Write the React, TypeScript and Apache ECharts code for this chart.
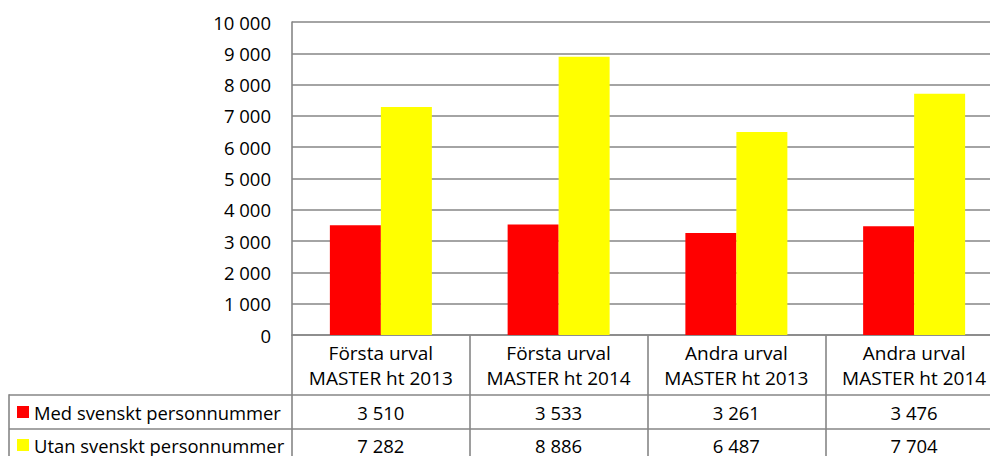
import React, { useEffect, useRef } from "react";
import * as echarts from "echarts";

const categories = [
  "Första urval\nMASTER ht 2013",
  "Första urval\nMASTER ht 2014",
  "Andra urval\nMASTER ht 2013",
  "Andra urval\nMASTER ht 2014",
];
const seriesNames = ["Med svenskt personnummer", "Utan svenskt personnummer"];
const medValues = [3510, 3533, 3261, 3476];
const utanValues = [7282, 8886, 6487, 7704];
const colors = ["#ff0000", "#ffff00"];

const FONT = "'Open Sans', sans-serif";
const GRAY = "#868686";

const fmt = (n: number) => String(n).replace(/\B(?=(\d{3})+(?!\d))/g, " ");

export default function App() {
  const ref = useRef<HTMLDivElement>(null);
  useEffect(() => {
    document.body.style.margin = "0";
    const chart = echarts.init(ref.current!, null, { renderer: "svg" });
    const option: any = {
      animation: false,
      textStyle: { fontFamily: FONT },
      grid: {
        left: 292,
        top: 22,
        width: 711,
        height: 313,
        containLabel: false,
        outerBoundsMode: "none",
      },
      xAxis: {
        type: "category",
        data: categories,
        boundaryGap: true,
        axisLine: { show: true, lineStyle: { color: GRAY, width: 1.6 } },
        axisTick: { show: true, length: 130, lineStyle: { color: GRAY, width: 1.6 } },
        axisLabel: {
          interval: 0,
          margin: 5,
          fontSize: 19,
          lineHeight: 25,
          color: "#000",
          fontFamily: FONT,
        },
      },
      yAxis: {
        type: "value",
        min: 0,
        max: 10000,
        interval: 1000,
        axisLine: { show: true, lineStyle: { color: GRAY, width: 1.6 } },
        axisTick: { show: false },
        splitLine: { show: true, lineStyle: { color: GRAY, width: 1.6 } },
        axisLabel: {
          margin: 21,
          fontSize: 18.5,
          color: "#000",
          fontFamily: FONT,
          formatter: (v: number) => fmt(v),
        },
      },
      series: [
        {
          name: seriesNames[0],
          type: "bar",
          data: medValues,
          barWidth: 51,
          barGap: "0%",
          itemStyle: { color: colors[0] },
        },
        {
          name: seriesNames[1],
          type: "bar",
          data: utanValues,
          barWidth: 51,
          barGap: "0%",
          itemStyle: { color: colors[1] },
        },
      ],
    };
    chart.setOption(option);

    const rowsY = [412, 445];
    const rows = [medValues, utanValues];
    const graphics: any[] = [];
    [395, 429].forEach((y) => {
      graphics.push({
        type: "line",
        shape: { x1: 9, y1: y, x2: 1010, y2: y },
        style: { stroke: GRAY, lineWidth: 1.6 },
        silent: true,
      });
    });
    graphics.push({
      type: "line",
      shape: { x1: 9, y1: 394.2, x2: 9, y2: 470 },
      style: { stroke: GRAY, lineWidth: 1.6 },
      silent: true,
    });
    rows.forEach((vals, r) => {
      graphics.push({
        type: "rect",
        shape: { x: 17, y: rowsY[r] - 6, width: 12, height: 12 },
        style: { fill: colors[r] },
        silent: true,
      });
      graphics.push({
        type: "text",
        x: 34,
        y: rowsY[r],
        style: {
          text: seriesNames[r],
          fontSize: 18.4,
          lineHeight: 18,
          fontFamily: FONT,
          fill: "#000",
          align: "left",
          verticalAlign: "middle",
        },
        silent: true,
      });
      vals.forEach((v, i) => {
        const x = chart.convertToPixel({ xAxisIndex: 0 }, i) as number;
        graphics.push({
          type: "text",
          x,
          y: rowsY[r],
          style: {
            text: fmt(v),
            fontSize: 18.5,
            lineHeight: 18,
            fontFamily: FONT,
            fill: "#000",
            align: "center",
            verticalAlign: "middle",
          },
          silent: true,
        });
      });
    });
    chart.setOption({ graphic: graphics });
    return () => chart.dispose();
  }, []);
  return <div ref={ref} style={{ width: 990, height: 456 }} />;
}
